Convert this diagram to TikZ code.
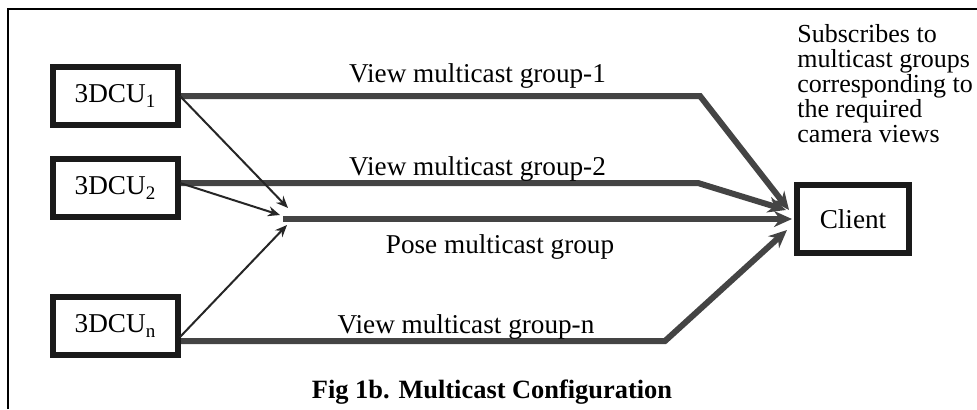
\documentclass[tikz,border=0pt]{standalone}
\usepackage{fontspec}
\setmainfont{Liberation Serif}
\usepackage{tikz}
\usetikzlibrary{arrows.meta,positioning}
\definecolor{feedgray}{RGB}{68,68,68}
\definecolor{boxblack}{RGB}{26,26,26}

\begin{document}
\begin{tikzpicture}[x=0.5pt, y=0.5pt,
    font=\fontsize{13.6}{12.5}\selectfont,
    unit/.style={draw=boxblack, line width=3pt, minimum width=62.5pt, minimum height=29pt, inner sep=0pt},
    feed/.style={draw=feedgray, line width=3pt, -{Stealth[length=9pt, width=8pt]}},
    link/.style={draw=black!85, line width=1pt, -{Stealth[length=6pt, width=5pt]}},
    lbl/.style={anchor=base, inner sep=0pt}]
    \useasboundingbox (0,0) rectangle (977,409);
    \draw [line width=1pt] (8,0) -- (8,400) -- (977,400);
    \node [unit] (u1) at (115.5,313) {3DCU\textsubscript{1}};
    \node [unit] (u2) at (115.5,221) {3DCU\textsubscript{2}};
    \node [unit] (un) at (115.5,83) {3DCU\textsubscript{n}};
    \node [unit, minimum width=56pt, minimum height=34pt] (client) at (853,190) {Client};
    \node [anchor=base west, inner sep=0pt, align=left, font=\fontsize{13}{12.5}\selectfont] (subs) at (797,267)
    {Subscribes to\\multicast groups\\corresponding to\\the required\\camera views};
    \coordinate (hub) at (283,190);
    \coordinate (b1) at (700,313);
    \coordinate (b2) at (698,226);
    \coordinate (bn) at (665,68);
    \draw [feed] (u1.east) -- (b1) -- ([xshift=-2.5pt, yshift=4.5pt]client.west);
    \draw [feed] ([yshift=2.5pt]u2.east) -- (b2) -- ([xshift=-4pt, yshift=4.5pt]client.west);
    \draw [feed, shorten >=1pt] (hub) -- (client.west);
    \draw [feed] ([yshift=-7.5pt]un.east) -- (bn) -- ([xshift=-3.5pt, yshift=-5.5pt]client.west);
    \draw [link] ([xshift=-0.5pt]u1.east) -- ([xshift=2.5pt, yshift=5.5pt]hub);
    \draw [link] ([xshift=-0.5pt, yshift=2.5pt]u2.east) -- ([xshift=-1.5pt, yshift=2pt]hub);
    \draw [link] ([xshift=-0.5pt, yshift=-5.5pt]un.east) -- ([xshift=2pt, yshift=-3pt]hub);
    \node [lbl] (v1) at (477.5,327) {View multicast group-1};
    \node [lbl] (v2) at (477.5,234) {View multicast group-2};
    \node [lbl] (pose) at (500,156) {Pose multicast group};
    \node [lbl] (vn) at (466,76) {View multicast group-n};
    \node [lbl, font=\fontsize{13.2}{15}\selectfont] (caption) at (492,11) {\bfseries Fig 1b. Multicast Configuration};
\end{tikzpicture}
\end{document}
